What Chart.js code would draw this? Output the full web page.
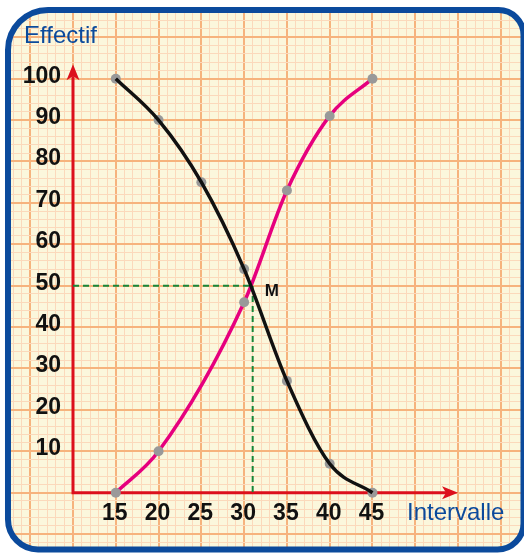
<!DOCTYPE html>
<html lang="fr">
<head>
<meta charset="utf-8">
<title>Effectifs cumulés</title>
<script src="https://cdn.jsdelivr.net/npm/chart.js@4.4.1/dist/chart.umd.min.js"></script>
<style>
  html, body { margin: 0; padding: 0; background: #fff; overflow: hidden; }
  canvas { display: block; }
</style>
</head>
<body>
<canvas id="courbes" width="524" height="553"></canvas>
<script>
// bornes des classes et effectifs cumulés
const intervalles = [15, 20, 25, 30, 35, 40, 45];
const effCumCroissants = [0, 10, null, 46, 73, 91, 100];   // pas de point relevé en 25
const effCumDecroissants = [100, 90, 75, 54, 27, 7, 0];

const graduationsX = [15, 20, 25, 30, 35, 40, 45];
const graduationsY = [10, 20, 30, 40, 50, 60, 70, 80, 90, 100];

// point M, intersection des deux courbes
const medianeX = 31;
const medianeY = 50;

// origine du repère et bout des flèches
const origineX = 10;
const origineY = 0;
const flecheX = 55;
const flecheY = 103.5;

// étendue du papier millimétré (toute la zone de dessin)
const xMin = 1.468, xMax = 62.71;
const yMin = -14.57, yMax = 119.0;

const ROUGE = '#dc0f1c';
const BLEU = '#0b4a9c';
const FOND = '#fbf7dc';
const GRILLE_FORTE = '#f6b37d';
const GRILLE_FINE = '#fbd9bb';
const GRIS = '#999999';

const points = ys => intervalles
  .map((x, i) => ({ x, y: ys[i] }))
  .filter(p => p.y !== null);

function cadre(ctx) {
  ctx.beginPath();
  ctx.roundRect(8, 10, 515.5, 539.5, [40, 25, 26, 30]);
}

function fleche(ctx, x, y, angle) {
  ctx.save();
  ctx.translate(x, y);
  ctx.rotate(angle);
  ctx.beginPath();
  ctx.moveTo(0, 0);
  ctx.lineTo(-6.5, 16);
  ctx.lineTo(0, 12);
  ctx.lineTo(6.5, 16);
  ctx.closePath();
  ctx.fill();
  ctx.restore();
}

const decor = {
  id: 'decor',
  beforeDraw(chart) {
    const { ctx, width, height } = chart;
    ctx.save();
    ctx.fillStyle = '#fff';
    ctx.fillRect(0, 0, width, height);
    cadre(ctx);
    ctx.fillStyle = FOND;
    ctx.fill();
    ctx.restore();
  },
  beforeDatasetsDraw(chart) {
    const { ctx } = chart;
    const sx = chart.scales.x, sy = chart.scales.y;
    const x0 = sx.getPixelForValue(origineX);
    const y0 = sy.getPixelForValue(origineY);
    const xf = sx.getPixelForValue(flecheX);
    const yf = sy.getPixelForValue(flecheY);

    ctx.save();
    // axes rouges
    ctx.strokeStyle = ROUGE;
    ctx.fillStyle = ROUGE;
    ctx.lineWidth = 3;
    ctx.beginPath();
    ctx.moveTo(x0, yf + 12);
    ctx.lineTo(x0, y0);
    ctx.lineTo(xf - 12, y0);
    ctx.stroke();
    fleche(ctx, x0, yf, 0);
    fleche(ctx, xf, y0, Math.PI / 2);

    // graduations
    ctx.fillStyle = '#111';
    ctx.font = 'bold 23px "Liberation Sans", Arial, sans-serif';
    ctx.textBaseline = 'alphabetic';
    ctx.textAlign = 'center';
    graduationsX.forEach(v => ctx.fillText(String(v), sx.getPixelForValue(v) - 1, y0 + 27));
    ctx.textAlign = 'right';
    graduationsY.forEach(v => ctx.fillText(String(v), x0 - 12, sy.getPixelForValue(v) + 4));

    // titres des axes
    ctx.fillStyle = BLEU;
    ctx.font = '24px "Liberation Sans", Arial, sans-serif';
    ctx.textAlign = 'left';
    ctx.fillText('Effectif', 24, 43);
    ctx.fillText('Intervalle', 407, y0 + 27);

    // étiquette du point M
    ctx.fillStyle = '#111';
    ctx.font = 'bold 17px "Liberation Sans", Arial, sans-serif';
    ctx.fillText('M', sx.getPixelForValue(medianeX) + 12, sy.getPixelForValue(medianeY) + 10);
    ctx.restore();
  },
  afterDraw(chart) {
    const { ctx, width, height } = chart;
    ctx.save();
    // coins blancs hors du cadre arrondi
    ctx.beginPath();
    ctx.rect(0, 0, width, height);
    ctx.roundRect(8, 10, 515.5, 539.5, [40, 25, 26, 30]);
    ctx.fillStyle = '#fff';
    ctx.fill('evenodd');
    cadre(ctx);
    ctx.strokeStyle = BLEU;
    ctx.lineWidth = 6;
    ctx.stroke();
    ctx.restore();
  }
};

const grille = pas => ({
  drawTicks: false,
  color: c => (c.tick && Math.abs(c.tick.value % pas) < 1e-6) ? GRILLE_FORTE : GRILLE_FINE,
  lineWidth: c => (c.tick && Math.abs(c.tick.value % pas) < 1e-6) ? 2 : 1
});

new Chart(document.getElementById('courbes'), {
  type: 'line',
  data: {
    datasets: [
      {
        label: 'ECD',
        data: points(effCumDecroissants),
        borderColor: '#111',
        borderWidth: 3.5,
        pointRadius: 0,
        cubicInterpolationMode: 'monotone',
        order: 1
      },
      {
        label: 'ECC',
        data: points(effCumCroissants),
        borderColor: '#e6007e',
        borderWidth: 3.5,
        pointRadius: 5,
        pointBackgroundColor: GRIS,
        pointBorderWidth: 0,
        cubicInterpolationMode: 'monotone',
        order: 2
      },
      {
        label: 'ECD points',
        data: points(effCumDecroissants),
        showLine: false,
        pointRadius: 5,
        pointBackgroundColor: GRIS,
        pointBorderWidth: 0,
        order: 3
      },
      {
        label: 'Médiane',
        data: [
          { x: origineX, y: medianeY },
          { x: medianeX, y: medianeY },
          { x: medianeX, y: origineY }
        ],
        borderColor: '#17873a',
        borderWidth: 2,
        borderDash: [6, 4],
        pointRadius: 0,
        tension: 0,
        order: 4
      }
    ]
  },
  options: {
    responsive: false,
    animation: false,
    layout: { padding: 0, autoPadding: false },
    plugins: {
      legend: { display: false },
      tooltip: { enabled: false }
    },
    scales: {
      x: {
        type: 'linear',
        min: xMin,
        max: xMax,
        border: { display: false },
        ticks: { display: false, stepSize: 1, autoSkip: false },
        grid: grille(5)
      },
      y: {
        type: 'linear',
        min: yMin,
        max: yMax,
        border: { display: false },
        ticks: { display: false, stepSize: 2, autoSkip: false },
        grid: grille(10)
      }
    }
  },
  plugins: [decor]
});
</script>
</body>
</html>
